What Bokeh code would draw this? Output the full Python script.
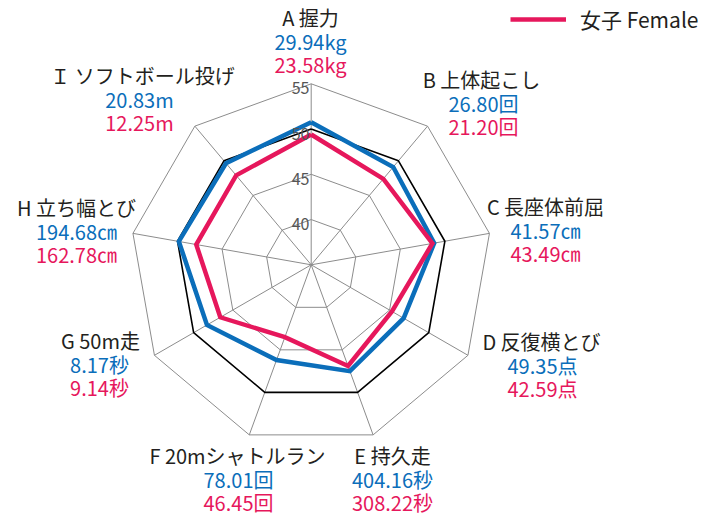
import numpy as np
from bokeh.plotting import figure
from bokeh.models import Range1d, Legend, LegendItem
from bokeh.core.properties import value
from bokeh.embed import file_html
from bokeh.resources import INLINE

# ---------------- data ----------------
categories = ["A 握力", "B 上体起こし", "C 長座体前屈", "D 反復横とび", "E 持久走",
              "F 20mシャトルラン", "G 50m走", "H 立ち幅とび", "Ｉ ソフトボール投げ"]
male_raw = ["29.94kg", "26.80回", "41.57㎝", "49.35点", "404.16秒",
            "78.01回", "8.17秒", "194.68㎝", "20.83m"]
female_raw = ["23.58kg", "21.20回", "43.49㎝", "42.59点", "308.22秒",
              "46.45回", "9.14秒", "162.78㎝", "12.25m"]
male_score = [50.75, 49.1, 48.8, 46.8, 47.5, 46.2, 48.3, 49.85, 49.65]
female_score = [49.4, 47.4, 48.6, 45.3, 46.9, 43.5, 46.6, 47.9, 47.9]
ring_values = [40, 45, 50, 55]
ring_labels = ["40", "45", "50", "55"]
r_min = 35
r_max = 55

# ---------------- layout ----------------
W, H = 721, 516
CX, CY = 310.7, 264.3     # centre in page px
S = 9.05                  # px per score unit
FONT = "Noto Sans CJK JP"
BLUE = "#0B6EBA"
PINK = "#E6175C"
TXT = "#231F20"

# label anchors (page px): title centre x, title centre y, value centre x
label_pos = [(310, 17, 310), (481, 79, 483), (545, 206, 545), (541, 341, 542),
             (392, 455, 392), (237, 455, 238), (100, 340, 99), (76, 207, 76),
             (142, 75, 139)]
LINE_GAP = 23.5

n = len(categories)
angles = np.arange(n) * 2 * np.pi / n


def polar(vals):
    r = np.asarray(vals, dtype=float) - r_min
    return r * np.sin(angles), r * np.cos(angles)


def to_data(sx, sy):
    return (sx - CX) / S, (CY - sy) / S


p = figure(width=W, height=H, output_backend="svg", toolbar_location=None,
           x_range=Range1d(-CX / S, (W - CX) / S),
           y_range=Range1d(-(H - CY) / S, CY / S),
           min_border=0, outline_line_color=None)
p.axis.visible = False
p.grid.visible = False
p.background_fill_color = "white"

# spokes
ox, oy = polar([r_max] * n)
p.segment(x0=[0] * n, y0=[0] * n, x1=list(ox), y1=list(oy), line_color="#8C8C8C", line_width=1)

# rings
for v in ring_values:
    rx, ry = polar([v] * n)
    xs = list(rx) + [rx[0]]
    ys = list(ry) + [ry[0]]
    if v == 50:
        p.line(xs, ys, line_color="black", line_width=1.6)
    else:
        p.line(xs, ys, line_color="#8C8C8C", line_width=1)

# series
mx, my = polar(male_score)
male_r = p.line(list(mx) + [mx[0]], list(my) + [my[0]], line_color=BLUE, line_width=4.5,
                line_join="miter")
fx, fy = polar(female_score)
female_r = p.line(list(fx) + [fx[0]], list(fy) + [fy[0]], line_color=PINK, line_width=4.5,
                  line_join="miter")

# ring labels on top axis
p.text(x=[-0.2] * len(ring_values), y=[v - r_min - 0.5 for v in ring_values], text=ring_labels,
       text_align="right", text_baseline="middle", text_font=value(FONT),
       text_font_size="16px", text_color="#555555")

# category labels
tx, ty, vx_m, vy_m, vy_f = [], [], [], [], []
for (sx, sy, vx) in label_pos:
    a, b = to_data(sx, sy)
    tx.append(a); ty.append(b)
    a2, b2 = to_data(vx, sy + LINE_GAP)
    vx_m.append(a2); vy_m.append(b2)
    _, b3 = to_data(vx, sy + 2 * LINE_GAP)
    vy_f.append(b3)

p.text(x=tx, y=ty, text=categories, text_align="center", text_baseline="middle",
       text_font=value(FONT), text_font_size="20px", text_color=TXT)
p.text(x=vx_m, y=vy_m, text=male_raw, text_align="center", text_baseline="middle",
       text_font=value(FONT), text_font_size="20px", text_color=BLUE)
p.text(x=vx_m, y=vy_f, text=female_raw, text_align="center", text_baseline="middle",
       text_font=value(FONT), text_font_size="20px", text_color=PINK)

legend = Legend(items=[LegendItem(label="女子 Female", renderers=[female_r])],
                location=(510, 482), orientation="vertical",
                glyph_width=56, glyph_height=20, label_standoff=14,
                label_text_font=FONT, label_text_font_size="21px", label_text_color=TXT,
                padding=0, margin=0, border_line_color=None, background_fill_alpha=0)
p.add_layout(legend)

open("out.html", "w").write(file_html(p, INLINE))
